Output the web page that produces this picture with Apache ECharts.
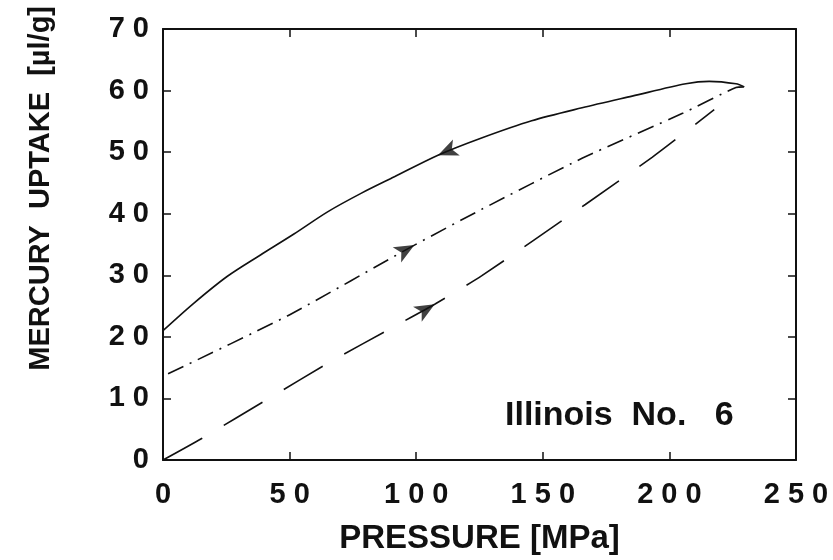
<!DOCTYPE html>
<html>
<head>
<meta charset="utf-8">
<script src="https://cdn.jsdelivr.net/npm/echarts@6/dist/echarts.min.js"></script>
<style>
  html, body { margin: 0; padding: 0; background: #fff; }
  #main { width: 833px; height: 560px; }
</style>
</head>
<body>
<div id="main"></div>
<script>
// pressure [MPa] and mercury uptake [µl/g]
var solidX = [229.6, 226.3, 215.7, 206.5, 185.3, 165.5, 145.6, 125.8, 108.6, 91.4, 78.2, 65.0, 51.7, 38.5, 25.3, 12.0, 0];
var solidY = [60.6, 61.1, 61.5, 61.1, 59.1, 57.2, 55.1, 52.3, 49.5, 46.0, 43.3, 40.3, 36.7, 33.3, 29.8, 25.4, 21.0];

var dashDotX = [2, 49.1, 99.3, 125.8, 165.5, 205.2, 226.3, 229.6];
var dashDotY = [14.0, 23.4, 34.9, 40.7, 49.0, 56.3, 60.5, 60.6];

var dashX = [0, 15.3, 41.8, 66.3, 91.4, 107.3, 125.8, 166.8, 193.3, 217.7];
var dashY = [0, 3.5, 10.0, 16.0, 21.7, 25.3, 29.9, 41.5, 49.2, 56.9];

// direction arrows on the curves
var arrowX = [108.6, 99.3, 107.3];
var arrowY = [49.5, 34.9, 25.3];
var arrowAngle = [113, -61, -60];

function zip(a, b) {
    return a.map(function (v, i) { return [v, b[i]]; });
}
function spaced(v) {
    return String(v).split('').join(' ');
}

var font = 'Liberation Sans, Arial, sans-serif';
var ink = '#111';

// one side of the boxed frame, ticks pointing into the plot
function frameAxis(pos, max, labels) {
    return {
        type: 'value',
        position: pos,
        min: 0, max: max, interval: max === 250 ? 50 : 10,
        axisLine: { show: true, onZero: false, lineStyle: { color: ink, width: 2 } },
        axisTick: { show: true, inside: true, length: 8, lineStyle: { color: ink, width: 1.5 } },
        axisLabel: labels ? {
            show: true, margin: pos === 'bottom' ? 20 : 14,
            fontFamily: font, fontSize: 29, fontWeight: 'bold', color: ink,
            formatter: spaced
        } : { show: false },
        splitLine: { show: false }
    };
}

var xBottom = frameAxis('bottom', 250, true);
xBottom.name = 'PRESSURE [MPa]';
xBottom.nameLocation = 'middle';
xBottom.nameGap = 62;
xBottom.nameTextStyle = { fontFamily: font, fontSize: 33, fontWeight: 'bold', color: ink };

var myChart = echarts.init(document.getElementById('main'));

myChart.setOption({
    animation: false,
    backgroundColor: '#fff',
    title: {
        text: 'Illinois  No.   6',
        left: 500,
        top: 394,
        textStyle: { fontFamily: font, fontSize: 34, fontWeight: 'bold', color: ink }
    },
    graphic: [{
        type: 'text',
        left: 26,
        top: 6,
        rotation: Math.PI / 2,
        style: {
            text: 'MERCURY  UPTAKE  [µl/g]',
            fontFamily: font,
            fontSize: 29,
            fontWeight: 'bold',
            fill: ink
        }
    }],
    grid: { left: 163, right: 37, top: 29, bottom: 98 },
    xAxis: [xBottom, frameAxis('top', 250, false)],
    yAxis: [frameAxis('left', 70, true), frameAxis('right', 70, false)],
    series: [{
        name: 'depressurization',
        type: 'line',
        data: zip(solidX, solidY),
        smooth: 0.3,
        showSymbol: false,
        lineStyle: { color: ink, width: 1.6 }
    }, {
        name: 'second pressurization',
        type: 'line',
        data: zip(dashDotX, dashDotY),
        smooth: 0.2,
        showSymbol: false,
        lineStyle: { color: ink, width: 1.6, type: [17, 7, 2, 7] }
    }, {
        name: 'first pressurization',
        type: 'line',
        data: zip(dashX, dashY),
        smooth: 0.2,
        showSymbol: false,
        lineStyle: { color: ink, width: 1.6, type: [45, 25] }
    }, {
        name: 'arrows',
        type: 'scatter',
        symbol: 'arrow',
        symbolSize: [13, 20],
        itemStyle: { color: ink },
        data: arrowX.map(function (x, i) {
            return { value: [x, arrowY[i]], symbolRotate: arrowAngle[i] };
        }),
        z: 5
    }]
});
</script>
</body>
</html>
